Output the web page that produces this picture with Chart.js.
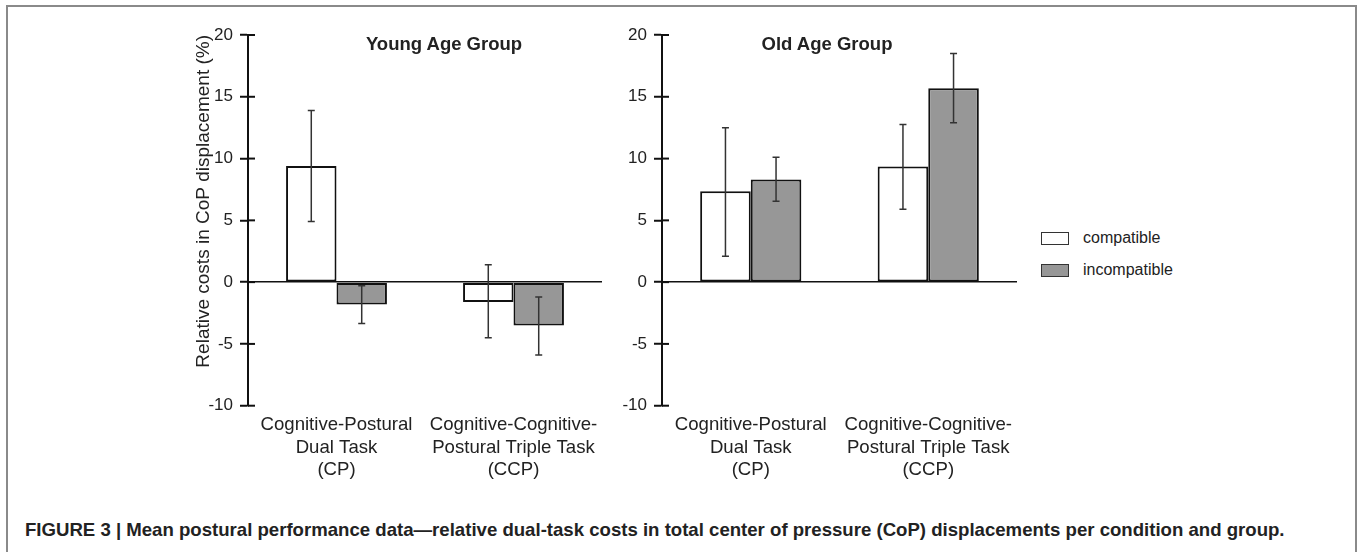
<!DOCTYPE html>
<html>
<head>
<meta charset="utf-8">
<script src="https://cdn.jsdelivr.net/npm/chart.js@4.4.1/dist/chart.umd.min.js"></script>
<style>
  body { margin: 0; background: #fff; width: 1357px; height: 552px; overflow: hidden; position: relative;
         font-family: "Liberation Sans", Arial, sans-serif; color: #222; }
  .frame { position: absolute; left: 6px; top: 5px; width: 1347px; height: 600px; border: 2px solid #8a8a8a; border-bottom: none; }
  canvas { position: absolute; top: 0; }
  .title { position: absolute; font-weight: bold; font-size: 18.5px; transform: translate(-50%, -50%); white-space: nowrap; }
  .legend { position: absolute; left: 1041px; top: 222px; font-size: 16px; }
  .legend div { height: 32px; display: flex; align-items: center; }
  .legend span.box { display: inline-block; width: 26px; height: 11px; border: 1.5px solid #333; margin-right: 14px; }
  .caption { position: absolute; left: 25px; top: 519px; font-size: 18.6px; font-weight: bold; white-space: nowrap; }
</style>
</head>
<body>
<div class="frame"></div>
<canvas id="young" width="460" height="500" style="left:160px"></canvas>
<canvas id="old" width="420" height="500" style="left:620px"></canvas>
<div class="title" style="left:444px; top:44px">Young Age Group</div>
<div class="title" style="left:827px; top:44px">Old Age Group</div>
<div class="legend">
  <div><span class="box" style="background:#fff"></span>compatible</div>
  <div><span class="box" style="background:#979797"></span>incompatible</div>
</div>
<div class="caption">FIGURE 3 | Mean postural performance data—relative dual-task costs in total center of pressure (CoP) displacements per condition and group.</div>

<script>
// data
const categories = [['Cognitive-Postural', 'Dual Task', '(CP)'], ['Cognitive-Cognitive-', 'Postural Triple Task', '(CCP)']];
const seriesNames = ['compatible', 'incompatible'];

const youngCompatible = [9.4, -1.6];
const youngCompatibleLow = [4.9, -4.5];
const youngCompatibleHigh = [13.9, 1.4];
const youngIncompatible = [-1.8, -3.5];
const youngIncompatibleLow = [-3.35, -5.9];
const youngIncompatibleHigh = [-0.3, -1.2];

const oldCompatible = [7.35, 9.35];
const oldCompatibleLow = [2.1, 5.9];
const oldCompatibleHigh = [12.5, 12.75];
const oldIncompatible = [8.3, 15.7];
const oldIncompatibleLow = [6.55, 12.9];
const oldIncompatibleHigh = [10.1, 18.5];

const yMin = -10, yMax = 20, yStep = 5;

Chart.defaults.font.family = '"Liberation Sans", Arial, sans-serif';
Chart.defaults.color = '#222';

// error bars + the inner half of the y tick marks
const extras = {
    id: 'extras',
    afterDatasetsDraw(chart) {
        const ctx = chart.ctx;
        const y = chart.scales.y;
        ctx.save();
        ctx.strokeStyle = '#333';
        ctx.lineWidth = 1.5;
        chart.data.datasets.forEach((ds, i) => {
            const meta = chart.getDatasetMeta(i);
            meta.data.forEach((bar, j) => {
                const lo = y.getPixelForValue(ds.errLow[j]);
                const hi = y.getPixelForValue(ds.errHigh[j]);
                ctx.beginPath();
                ctx.moveTo(bar.x, lo); ctx.lineTo(bar.x, hi);
                ctx.moveTo(bar.x - 3.5, lo); ctx.lineTo(bar.x + 3.5, lo);
                ctx.moveTo(bar.x - 3.5, hi); ctx.lineTo(bar.x + 3.5, hi);
                ctx.stroke();
            });
        });
        ctx.strokeStyle = '#111';
        ctx.lineWidth = 2;
        y.ticks.forEach(t => {
            const py = y.getPixelForValue(t.value);
            ctx.beginPath();
            ctx.moveTo(chart.chartArea.left, py);
            ctx.lineTo(chart.chartArea.left + 7, py);
            ctx.stroke();
        });
        ctx.restore();
    }
};

function makeChart(id, comp, compLo, compHi, incomp, incompLo, incompHi, showTitle, yWidth, padRight) {
    const ctx = document.getElementById(id).getContext('2d');
    return new Chart(ctx, {
        type: 'bar',
        data: {
            labels: categories,
            datasets: [{
                label: seriesNames[0],
                data: comp,
                errLow: compLo,
                errHigh: compHi,
                backgroundColor: '#ffffff',
                borderColor: '#111',
                borderWidth: 2,
                borderSkipped: false
            }, {
                label: seriesNames[1],
                data: incomp,
                errLow: incompLo,
                errHigh: incompHi,
                backgroundColor: '#979797',
                borderColor: '#111',
                borderWidth: 2,
                borderSkipped: false
            }]
        },
        options: {
            responsive: false,
            animation: false,
            layout: { padding: { top: 35, bottom: 14.3, left: 0, right: padRight } },
            plugins: { legend: { display: false }, tooltip: { enabled: false } },
            datasets: { bar: { categoryPercentage: 0.57, barPercentage: 1 } },
            scales: {
                x: {
                    offset: true,
                    grid: { display: false, drawTicks: false },
                    border: { display: false },
                    ticks: { padding: 8.5, font: { size: 18.6 }, color: '#222', maxRotation: 0, autoSkip: false },
                    afterFit: s => { s.height = 80; }
                },
                y: {
                    min: yMin,
                    max: yMax,
                    ticks: { stepSize: yStep, padding: 7, font: { size: 17 }, color: '#222' },
                    grid: {
                        color: c => (c.tick && c.tick.value === 0) ? '#111' : 'rgba(0,0,0,0)',
                        lineWidth: 1.5,
                        tickColor: '#111',
                        tickWidth: 2,
                        tickLength: 8
                    },
                    border: { display: true, color: '#111', width: 2 },
                    title: {
                        display: showTitle,
                        text: 'Relative costs in CoP displacement (%)',
                        align: 'end',
                        font: { size: 19 },
                        color: '#222',
                        padding: { top: 32, bottom: 0 }
                    },
                    afterFit: s => { s.width = yWidth; }
                }
            }
        },
        plugins: [extras]
    });
}

makeChart('young', youngCompatible, youngCompatibleLow, youngCompatibleHigh,
    youngIncompatible, youngIncompatibleLow, youngIncompatibleHigh, true, 88, 18);
makeChart('old', oldCompatible, oldCompatibleLow, oldCompatibleHigh,
    oldIncompatible, oldIncompatibleLow, oldIncompatibleHigh, false, 42, 23);
</script>
</body>
</html>
